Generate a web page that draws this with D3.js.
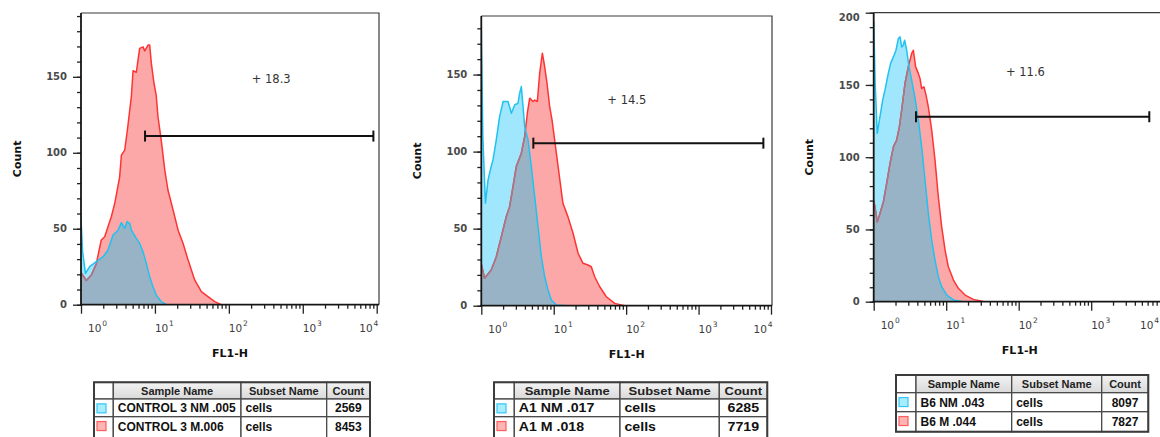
<!DOCTYPE html>
<html>
<head>
<meta charset="utf-8">
<script src="https://cdn.jsdelivr.net/npm/d3@7"></script>
<style>
  html, body { margin: 0; padding: 0; background: #fff; }
  svg { display: block; }
</style>
</head>
<body>
<svg id="chart" width="1160" height="437"></svg>
<script>
// ---- Histogram traces: FL1-H channel value and event count per point ----
const ctrlNmFl1   = [1.00,1.05,1.15,1.31,1.61,1.99,2.32,2.71,3.17,3.52,3.90,4.19,4.56,4.80,5.61,6.22,6.90,7.66,8.49,9.42,10.4,12.2,14.3];
const ctrlNmCount = [57,35,20.6,25,28.3,31.6,36,45.9,49,54,50.2,54.6,53.5,49,43.7,40.4,34.9,27.2,18.4,11.8,6.4,2,0];

const ctrlMFl1   = [1.00,1.18,1.38,1.61,1.88,2.09,2.57,2.86,3.33,3.52,3.90,4.24,4.80,5.06,5.61,5.90,6.22,6.90,7.28,8.07,8.49,8.95,9.72,10.4,11.0,12.2,13.6,15.0,17.6,20.6,24.0,28.1,34.5,42.5,52.2,64.4,79.3,92.5];
const ctrlMCount = [21,16,19.5,27,42.6,44.7,57.9,66.7,84,98.5,101.8,115,137,154,153,161,168.7,169.7,167,170.9,171,158.8,145.6,138,123.7,108,88.6,75.5,62.3,49,40.4,29.4,16.3,8.6,5.3,2,0,0];

const a1NmFl1   = [1.00,1.05,1.14,1.24,1.35,1.45,1.61,1.79,2.00,2.34,2.60,2.89,3.21,3.39,3.57,3.77,3.97,4.42,4.91,5.46,6.07,6.74,7.50,8.34,9.27,10.9,15.7];
const a1NmCount = [180,110,66.5,81.6,89.2,94.6,107.6,122.7,132.5,132.5,124.9,130.3,131.4,137.9,142.2,129.2,116.2,107.6,90.3,70.8,51.3,31.8,18.8,10.2,3.7,0.5,0];

const a1MFl1   = [1.00,1.11,1.37,1.61,1.89,2.21,2.46,2.74,3.04,3.57,3.97,4.32,4.66,5.17,5.46,5.94,6.40,6.97,7.50,8.07,8.79,9.47,10.3,11.5,13.4,15.7,18.5,21.7,25.4,29.7,33.0,36.8,43.2,53.3,69.5,95.5,131];
const a1MCount = [27,17.8,23.2,31.8,44.8,57.8,64.3,77.3,90.3,99,109.7,124.9,134.7,132.5,133.4,132.5,150.9,163.9,155.2,144.4,129.2,120.6,107.6,90.3,66.5,57.8,47,34,27.5,26.4,25.3,18.8,12.3,5.8,1.5,0,0];

const b6NmFl1   = [1.00,1.05,1.12,1.22,1.33,1.43,1.59,1.71,1.87,2.03,2.19,2.31,2.43,2.56,2.67,2.85,3.07,3.34,3.72,4.13,4.59,5.10,5.67,6.31,7.01,7.79,8.66,10.2,12.6,17.2];
const b6NmCount = [194,150,116.5,128,139.5,146.4,158,164.9,169.4,174,182.2,183.3,176.3,177.5,181,174,162.5,153.3,140.7,125.7,107.2,84.2,61.1,42.7,28.8,17.3,10.4,4.6,1.2,0];

const b6MFl1   = [1.00,1.04,1.12,1.22,1.36,1.51,1.68,1.87,2.07,2.26,2.43,2.70,3.00,3.34,3.52,3.79,4.13,4.35,4.59,4.94,5.27,5.67,6.31,7.01,7.79,8.66,9.64,10.7,12.6,14.7,18.2,23.7,32.5,44.7];
const b6MCount = [70,65.7,55.3,61.1,69.2,81.9,95.7,107.2,111.8,121,132.6,151,162.5,171.8,174,162.5,158,154.5,147.6,148.7,143,134.9,118.7,98,72.6,51.9,35.8,24.2,15,9.3,4.6,1.6,0.2,0];

// ---- Gates (range bar on FL1-H) and their percentages ----
const gateLow        = [7.35, 5.23, 3.83];
const gateHigh       = [9020, 7850, 6330];
const gateLevel      = [111, 105.5, 128];
const gatePercent    = [18.3, 14.5, 11.6];
const gateLabelFl1   = [204, 55, 66.8];
const gateLabelCount = [145.7, 131, 156];

// ---- Sample tables ----
const tableHeaders  = ["", "Sample Name", "Subset Name", "Count"];
const ctrlSamples   = ["CONTROL 3 NM .005", "CONTROL 3 M.006"];
const a1Samples     = ["A1 NM .017", "A1 M .018"];
const b6Samples     = ["B6 NM .043", "B6 M .044"];
const subsetNames   = ["cells", "cells"];
const ctrlEvents    = [2569, 8453];
const a1Events      = [6285, 7719];
const b6Events      = [8097, 7827];

// ---- Axis ticks ----
const xMajorTicks = [1, 10, 100, 1000, 10000];
const xTickExponents = ["0", "1", "2", "3", "4"];

const zip = (a, b) => a.map((v, i) => [v, b[i]]);

const SVG_W = 1160;

const panels = [
  { x0: 81,    x4: 376.7,  right: 379,  top: 13,   base: 304.7, yMax: 192, yLabels: [0, 50, 100, 150],
    nm: zip(ctrlNmFl1, ctrlNmCount), m: zip(ctrlMFl1, ctrlMCount),
    table: { cols: [94, 113.3, 241, 326.7, 370], top: 382.3, heights: [16.7, 17.7, 22], sx: 1.0,
             samples: ctrlSamples, events: ctrlEvents } },
  { x0: 481.3, x4: 771,    right: 772,  top: 16,   base: 305.7, yMax: 188, yLabels: [0, 50, 100, 150],
    nm: zip(a1NmFl1, a1NmCount), m: zip(a1MFl1, a1MCount),
    table: { cols: [494, 514.3, 620, 719.3, 767.3], top: 382.3, heights: [16.7, 17.7, 22], sx: 1.18,
             samples: a1Samples, events: a1Events } },
  { x0: 873.7, x4: 1163.7, right: 1166, top: 12.7, base: 301.7, yMax: 200, yLabels: [0, 50, 100, 150, 200],
    nm: zip(b6NmFl1, b6NmCount), m: zip(b6MFl1, b6MCount),
    table: { cols: [896, 916, 1011.7, 1101.7, 1148.3], top: 375, heights: [17.7, 19, 20], sx: 1.0,
             samples: b6Samples, events: b6Events } }
];

const svg = d3.select("#chart");
const defs = svg.append("defs");

const hdrGrad = defs.append("linearGradient").attr("id", "hdrGrad")
  .attr("x1", 0).attr("y1", 0).attr("x2", 0).attr("y2", 1);
hdrGrad.append("stop").attr("offset", "0%").attr("stop-color", "#f3f3f3");
hdrGrad.append("stop").attr("offset", "100%").attr("stop-color", "#d9d9d9");

const COL = {
  redFill: "#fca8a8", redLine: "#fe3434",
  blueFill: "#a0e7fd", blueLine: "#1fc2f0",
  overlap: "#98b3c6", redUnder: "#a27a8e"
};

const tickFont = "'DejaVu Sans', sans-serif";
const tableFont = "'Liberation Sans', Arial, sans-serif";

panels.forEach((p, i) => {
  const x = d3.scaleLog().domain([1, 1e4]).range([p.x0, p.x4]);
  const y = d3.scaleLinear().domain([0, p.yMax]).range([p.base, p.top]);
  const g = svg.append("g");

  // clip regions
  const plotClipId = `plot${i}`;
  defs.append("clipPath").attr("id", plotClipId).append("rect")
    .attr("x", p.x0).attr("y", p.top - 2).attr("width", p.right - p.x0).attr("height", p.base - p.top + 2);

  const area = d3.area().x(d => x(d[0])).y0(y(0)).y1(d => y(d[1]));
  const line = d3.line().x(d => x(d[0])).y(d => y(d[1]));

  defs.append("clipPath").attr("id", `red${i}`).append("path").attr("d", area(p.m));
  defs.append("clipPath").attr("id", `blue${i}`).append("path").attr("d", area(p.nm));

  const plot = g.append("g").attr("clip-path", `url(#${plotClipId})`);

  // histogram fills
  plot.append("path").attr("d", area(p.m)).attr("fill", COL.redFill);
  plot.append("path").attr("d", area(p.nm)).attr("fill", COL.blueFill);
  plot.append("g").attr("clip-path", `url(#red${i})`)
    .append("path").attr("d", area(p.nm)).attr("fill", COL.overlap);

  // histogram outlines
  plot.append("path").attr("d", line(p.m)).attr("fill", "none")
    .attr("stroke", COL.redLine).attr("stroke-width", 1.5).attr("stroke-linejoin", "round");
  plot.append("g").attr("clip-path", `url(#blue${i})`)
    .append("path").attr("d", line(p.m)).attr("fill", "none")
    .attr("stroke", COL.redUnder).attr("stroke-width", 1.5).attr("stroke-linejoin", "round");
  plot.append("path").attr("d", line(p.nm)).attr("fill", "none")
    .attr("stroke", COL.blueLine).attr("stroke-width", 1.5).attr("stroke-linejoin", "round");

  // frame (top and right)
  g.append("path")
    .attr("d", `M${p.x0},${p.top}H${p.right}V${p.base}`)
    .attr("fill", "none").attr("stroke", "#3a3a3a").attr("stroke-width", 1.2);

  // y axis
  const yMinor = d3.range(0, p.yMax + 0.01, 10);
  const yAxisMinor = d3.axisLeft(y).tickValues(yMinor).tickSize(4).tickSizeOuter(0).tickFormat("");
  const yAxisMajor = d3.axisLeft(y).tickValues(p.yLabels).tickSize(8).tickSizeOuter(0).tickFormat("");
  [yAxisMinor, yAxisMajor].forEach(ax => {
    const a = g.append("g").attr("transform", `translate(${p.x0},0)`).call(ax);
    a.select(".domain").remove();
    a.selectAll("line").attr("stroke", "#222").attr("stroke-width", 1.3);
  });
  g.append("line").attr("x1", p.x0).attr("x2", p.x0).attr("y1", p.top).attr("y2", p.base + 0.8)
    .attr("stroke", "#151515").attr("stroke-width", 1.8);
  g.selectAll(".ylab").data(p.yLabels).enter().append("text")
    .attr("x", p.x0 - 14)
    .attr("y", v => y(v) + 3.6 + (v === p.yMax ? 5 : 0))
    .attr("text-anchor", "end")
    .attr("font-family", tickFont).attr("font-size", 10).attr("font-weight", "bold")
    .attr("fill", "#4a4a4a")
    .text(v => v);

  // x axis (log)
  const xMinor = [];
  [1, 10, 100, 1000].forEach(dec => { for (let k = 2; k <= 9; k++) xMinor.push(dec * k); });
  const xAxisMinor = d3.axisBottom(x).tickValues(xMinor).tickSize(4).tickSizeOuter(0).tickFormat("");
  const xAxisMajor = d3.axisBottom(x).tickValues(xMajorTicks).tickSize(9).tickSizeOuter(0).tickFormat("");
  [xAxisMinor, xAxisMajor].forEach(ax => {
    const a = g.append("g").attr("transform", `translate(0,${p.base})`).call(ax);
    a.select(".domain").remove();
    a.selectAll("line").attr("stroke", "#222").attr("stroke-width", 1.3);
  });
  g.append("line").attr("x1", p.x0 - 0.9).attr("x2", p.right).attr("y1", p.base).attr("y2", p.base)
    .attr("stroke", "#151515").attr("stroke-width", 1.8);

  xMajorTicks.forEach((v, k) => {
    const last = k === xMajorTicks.length - 1;
    const ax = x(v) + (k === 0 ? 7 : (last ? 1.5 : 0));
    const t = g.append("text")
      .attr("x", last ? Math.min(ax, SVG_W - 1) : ax)
      .attr("y", p.base + 27)
      .attr("text-anchor", last ? "end" : "start")
      .attr("font-family", tickFont).attr("font-size", 10.5)
      .attr("fill", "#3c3c3c");
    t.append("tspan").text("10");
    t.append("tspan").attr("dy", -5.5).attr("font-size", 7.5).attr("dx", 0.8).text(xTickExponents[k]);
  });

  // axis titles
  g.append("text")
    .attr("x", (p.x0 + p.right) / 2).attr("y", p.base + 52.3)
    .attr("text-anchor", "middle")
    .attr("font-family", tickFont).attr("font-size", 11).attr("font-weight", "bold")
    .attr("fill", "#111")
    .text("FL1-H");
  const cy = (p.top + p.base) / 2;
  const cx = p.x0 - 64.5 + 4;
  g.append("text")
    .attr("transform", `translate(${cx},${cy}) rotate(-90)`)
    .attr("text-anchor", "middle")
    .attr("font-family", tickFont).attr("font-size", 11).attr("font-weight", "bold")
    .attr("fill", "#111")
    .text("Count");

  // gate bar
  const gy = y(gateLevel[i]);
  const gx1 = x(gateLow[i]), gx2 = x(gateHigh[i]);
  const gate = g.append("g").attr("stroke", "#111").attr("stroke-width", 2);
  gate.append("line").attr("x1", gx1).attr("x2", gx2).attr("y1", gy).attr("y2", gy);
  gate.append("line").attr("x1", gx1).attr("x2", gx1).attr("y1", gy - 5.5).attr("y2", gy + 5.5);
  gate.append("line").attr("x1", gx2).attr("x2", gx2).attr("y1", gy - 5.5).attr("y2", gy + 5.5);
  g.append("text")
    .attr("x", x(gateLabelFl1[i])).attr("y", y(gateLabelCount[i]))
    .attr("font-family", tickFont).attr("font-size", 11.5)
    .attr("fill", "#333")
    .text("+ " + gatePercent[i]);

  // sample table
  const tb = p.table;
  const rowTops = [tb.top];
  tb.heights.forEach((h, r) => rowTops.push(rowTops[r] + h));
  const rows = [tableHeaders].concat(tb.samples.map((s, r) => ["", s, subsetNames[r], String(tb.events[r])]));
  const tg = svg.append("g");
  rows.forEach((row, r) => {
    const top = rowTops[r], h = tb.heights[r];
    row.forEach((cell, c) => {
      const cl = tb.cols[c], cw = tb.cols[c + 1] - cl;
      tg.append("rect").attr("x", cl).attr("y", top).attr("width", cw).attr("height", h)
        .attr("fill", r === 0 && c > 0 ? "url(#hdrGrad)" : "#fff")
        .attr("stroke", "#4a4a4a").attr("stroke-width", 1.3);
      if (r > 0 && c === 0) {
        const sz = 9;
        tg.append("rect").attr("x", cl + 3).attr("y", top + 8.85 - sz / 2 + 0.5)
          .attr("width", sz).attr("height", sz)
          .attr("fill", r === 1 ? "#a8ecff" : "#ffb4b4")
          .attr("stroke", r === 1 ? "#35c6f3" : "#ff5c5c").attr("stroke-width", 1.2);
      }
      if (cell === "") return;
      const centered = r === 0 || c === 3;
      const tx = centered ? cl + cw / 2 : cl + 4.5;
      const ty = r === 0 ? top + h / 2 + 4 : top + Math.min(h, 20) / 2 + 4.4;
      tg.append("text")
        .attr("transform", `translate(${tx},${ty}) scale(${tb.sx},1)`)
        .attr("text-anchor", centered ? "middle" : "start")
        .attr("font-family", tableFont)
        .attr("font-size", r === 0 ? 11 : 12)
        .attr("font-weight", "bold")
        .attr("fill", r === 0 ? "#222" : "#111")
        .text(cell);
    });
  });
  tg.append("rect").attr("x", tb.cols[0]).attr("y", tb.top)
    .attr("width", tb.cols[4] - tb.cols[0]).attr("height", rowTops[rowTops.length - 1] - tb.top)
    .attr("fill", "none").attr("stroke", "#3c3c3c").attr("stroke-width", 2);
});
</script>
</body>
</html>
